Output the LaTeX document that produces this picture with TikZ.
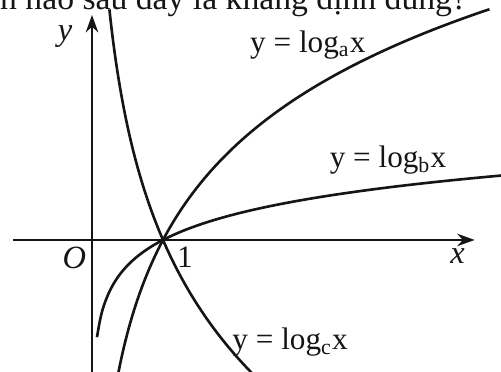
\documentclass[tikz,border=0pt]{standalone}
\usepackage{fontspec}
\setmainfont{Liberation Serif}
\usepackage{xcolor}
\usetikzlibrary{arrows.meta}
\definecolor{cInk}{HTML}{151515}
\tikzset{
  axis/.style={-{Stealth[length=7pt,width=5pt]},line width=0.9pt,color=cInk},
  curve/.style={line width=1.05pt,color=cInk,smooth,samples=150},
  lbl/.style={font=\fontsize{12.5}{14}\selectfont,text=cInk,inner sep=1pt},
  albl/.style={font=\fontsize{13}{14}\selectfont\itshape,text=cInk,inner sep=1pt},
}
\begin{document}
\begin{tikzpicture}[x=1cm,y=1cm]
  \clip (-1.296,-1.859) rectangle (5.761,3.380);
  \node[lbl,anchor=base west,inner sep=0pt,font=\fontsize{13.5}{15}\selectfont] (question) at (-1.30,3.25) {n nào sau đây là khẳng định đúng?};
  % axes
  \coordinate (xstart) at (-1.11,0);
  \coordinate (xend) at (5.39,0);
  \coordinate (ystart) at (0,-1.95);
  \coordinate (yend) at (0,3.17);
  \draw[axis] (xstart) -- (xend);
  \draw[axis] (ystart) -- (yend);
  \node[albl] (xlbl) at (5.15,-0.22) {x};
  \node[albl] (ylbl) at (-0.38,2.86) {y};
  \node[albl] (O) at (-0.25,-0.25) {O};
  \node[lbl] (one) at (1.31,-0.24) {1};
  % the three graphs
  \draw[curve] plot[domain=0.36:5.6] (\x,{ln(\x)/0.530});
  \draw[curve] plot[domain=0.07:5.9] (\x,{ln(\x)/1.93});
  \draw[curve] plot[domain=0.245:2.35] (\x,{ln(\x)/(-0.433)});
  \node[lbl] (la) at (3.04,2.75) {y = log\textsubscript{a}x};
  \node[lbl] (lb) at (4.17,1.13) {y = log\textsubscript{b}x};
  \node[lbl] (lc) at (2.79,-1.44) {y = log\textsubscript{c}x};
\end{tikzpicture}
\end{document}
